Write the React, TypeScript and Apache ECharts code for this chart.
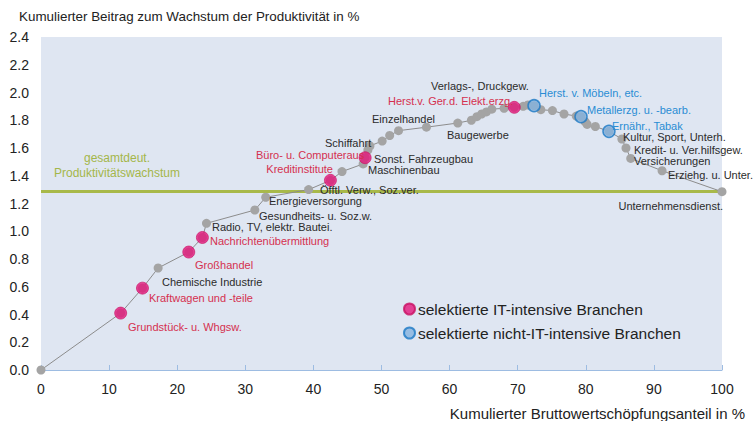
import React, { useEffect, useRef } from "react";
import * as echarts from "echarts";

// Cumulative share of gross value added (%) and cumulative contribution to productivity growth (%)
const cumShare = [
  0, 11.7, 14.9, 17.2, 21.7, 23.7, 24.3, 31.4, 33.0, 39.3, 42.5, 44.2, 47.3, 47.6, 48.0, 48.3,
  50.1, 51.2, 52.5, 56.6, 61.2, 63.2, 64.0, 64.7, 65.4, 66.2, 68.0, 69.5, 70.8, 71.5, 72.4,
  73.4, 75.1, 76.8, 78.6, 79.3, 79.9, 80.2, 81.4, 83.4, 85.3, 85.9, 86.6, 91.2, 100,
];
const cumContribution = [
  0, 0.41, 0.59, 0.735, 0.85, 0.955, 1.057, 1.153, 1.245, 1.3, 1.367, 1.43, 1.485, 1.53, 1.585, 1.615,
  1.65, 1.69, 1.725, 1.75, 1.78, 1.8, 1.826, 1.845, 1.86, 1.88, 1.886, 1.893, 1.9, 1.91, 1.905,
  1.876, 1.87, 1.845, 1.83, 1.826, 1.79, 1.77, 1.755, 1.72, 1.665, 1.6, 1.525, 1.436, 1.285,
];
// 0 = other, 1 = selected IT-intensive, 2 = selected non-IT-intensive
const branchKind = [
  0, 1, 1, 0, 1, 1, 0, 0, 0, 0, 1, 0, 0, 1, 0, 0,
  0, 0, 0, 0, 0, 0, 0, 0, 0, 0, 0, 1, 0, 0, 2,
  0, 0, 0, 0, 2, 0, 0, 0, 2, 0, 0, 0, 0, 0,
];
const totalGrowth = 1.29;

const seriesNames = ["selektierte IT-intensive Branchen", "selektierte nicht-IT-intensive Branchen"];
const yTitle = "Kumulierter Beitrag zum Wachstum der Produktivität in %";
const xTitle = "Kumulierter Bruttowertschöpfungsanteil in %";
const refLabel = ["gesamtdeut.", "Produktivitätswachstum"];

// Branch labels: text and colour class (r = IT, b = non-IT, k = other)
const branchLabels = [
  ["Grundstück- u. Whgsw.", "r"],
  ["Kraftwagen und -teile", "r"],
  ["Chemische Industrie", "k"],
  ["Großhandel", "r"],
  ["Nachrichtenübermittlung", "r"],
  ["Radio, TV, elektr. Bautei.", "k"],
  ["Gesundheits- u. Soz.w.", "k"],
  ["Energieversorgung", "k"],
  ["Öfftl. Verw., Soz.ver.", "k"],
  ["Kreditinstitute", "r"],
  ["Büro- u. Computeraus", "r"],
  ["Schiffahrt", "k"],
  ["Sonst. Fahrzeugbau", "k"],
  ["Maschinenbau", "k"],
  ["Einzelhandel", "k"],
  ["Baugewerbe", "k"],
  ["Verlags-, Druckgew.", "k"],
  ["Herst.v. Ger.d. Elekt.erzg.", "r"],
  ["Herst. v. Möbeln, etc.", "b"],
  ["Metallerzg. u. -bearb.", "b"],
  ["Ernähr., Tabak", "b"],
  ["Kultur, Sport, Unterh.", "k"],
  ["Kredit- u. Ver.hilfsgew.", "k"],
  ["Versicherungen", "k"],
  ["Erziehg. u. Unter.", "k"],
  ["Unternehmensdienst.", "k"],
];
// Label placement (pixel x, y, align) — layout only
const labelPlacement: [number, number, string][] = [
  [128, 327, "left"],
  [149, 298, "left"],
  [162, 282, "left"],
  [195, 265, "left"],
  [210, 241, "left"],
  [212, 227, "left"],
  [259, 216, "left"],
  [269, 201, "left"],
  [320, 190, "left"],
  [333, 169, "right"],
  [256, 155, "left"],
  [325, 143, "left"],
  [374, 159, "left"],
  [368, 170, "left"],
  [372, 119, "left"],
  [447, 135, "left"],
  [431, 86, "left"],
  [388, 101, "left"],
  [539, 93, "left"],
  [587, 110, "left"],
  [612, 126, "left"],
  [623, 137, "left"],
  [634, 150, "left"],
  [634, 161, "left"],
  [668, 175, "left"],
  [723, 206, "right"],
];

const FONT = '"Liberation Sans", Arial, sans-serif';
const colorMap: Record<string, string> = { r: "#d5304f", b: "#2a8dd4", k: "#2b2b2b" };

function txt(text: string, x: number, y: number, size: number, fill: string, align = "left") {
  return {
    type: "text",
    x,
    y,
    z: 100,
    silent: true,
    style: {
      text,
      fill,
      font: `${size}px ${FONT}`,
      align,
      verticalAlign: "middle",
      textAlign: align,
      textVerticalAlign: "middle",
    },
  };
}

export default function App() {
  const ref = useRef<HTMLDivElement>(null);
  useEffect(() => {
    if (!ref.current) return;
    const chart = echarts.init(ref.current, null, { renderer: "svg" });
    const all = cumShare.map((x, i) => [x, cumContribution[i]]);
    const it = all.filter((_, i) => branchKind[i] === 1);
    const nonIt = all.filter((_, i) => branchKind[i] === 2);

    const graphics: any[] = [
      txt(yTitle, 19, 16, 13.4, "#222"),
      txt(xTitle, 745, 413, 15, "#222", "right"),
      txt(refLabel[0], 117, 158, 12, "#a4b64a", "center"),
      txt(refLabel[1], 117, 173, 12, "#a4b64a", "center"),
    ];
    branchLabels.forEach(([t, c], i) => {
      const p = labelPlacement[i];
      graphics.push(txt(t, p[0], p[1], 11, colorMap[c], p[2]));
    });

    chart.setOption({
      animation: false,
      textStyle: { fontFamily: FONT },
      grid: {
        left: 41,
        right: 32,
        top: 37,
        bottom: 51,
        show: true,
        backgroundColor: "#dfe6f2",
        borderWidth: 0,
      },
      xAxis: {
        type: "value",
        min: 0,
        max: 100,
        interval: 10,
        axisLine: { show: true, lineStyle: { color: "#9dbce2", width: 1 } },
        axisTick: { show: true, inside: true, length: 5, lineStyle: { color: "#9dbce2" } },
        axisLabel: { color: "#222", fontSize: 14, margin: 12, fontFamily: FONT },
        splitLine: { show: false },
      },
      yAxis: {
        type: "value",
        min: 0,
        max: 2.4,
        interval: 0.2,
        axisLine: { show: false },
        axisTick: { show: false },
        axisLabel: {
          color: "#222",
          fontSize: 14,
          margin: 12,
          fontFamily: FONT,
          formatter: (v: number) => v.toFixed(1),
        },
        splitLine: { show: false },
      },
      legend: {
        orient: "vertical",
        left: 398,
        top: 296,
        padding: 5,
        itemGap: 8,
        itemWidth: 11,
        itemHeight: 11,
        icon: "circle",
        data: seriesNames,
        textStyle: {
          fontSize: 15.5,
          lineHeight: 14,
          color: "#222",
          fontFamily: FONT,
          padding: [0, 0, 0, -2],
        },
      },
      series: [
        {
          type: "line",
          name: "Branchen",
          data: all,
          symbol: "circle",
          symbolSize: 9,
          itemStyle: { color: "#a4a4a4" },
          lineStyle: { color: "#8c8c8c", width: 1 },
          z: 2,
          markLine: {
            silent: true,
            symbol: ["none", "none"],
            label: { show: false },
            lineStyle: { color: "#a8b94a", width: 3, type: "solid" },
            data: [{ yAxis: totalGrowth }],
            z: 1,
          },
        },
        {
          type: "scatter",
          name: seriesNames[0],
          data: it,
          symbolSize: 12,
          itemStyle: { color: "#e3167a", borderColor: "#c80f62", borderWidth: 0.8 },
          z: 4,
        },
        {
          type: "scatter",
          name: seriesNames[1],
          data: nonIt,
          symbolSize: 12,
          itemStyle: { color: "#84b3de", borderColor: "#1a78c4", borderWidth: 1.5 },
          z: 4,
        },
      ],
      graphic: graphics,
    });
    return () => chart.dispose();
  }, []);
  return (
    <div
      ref={ref}
      style={{ position: "fixed", left: 0, top: 0, width: 754, height: 421, background: "#fff" }}
    />
  );
}
